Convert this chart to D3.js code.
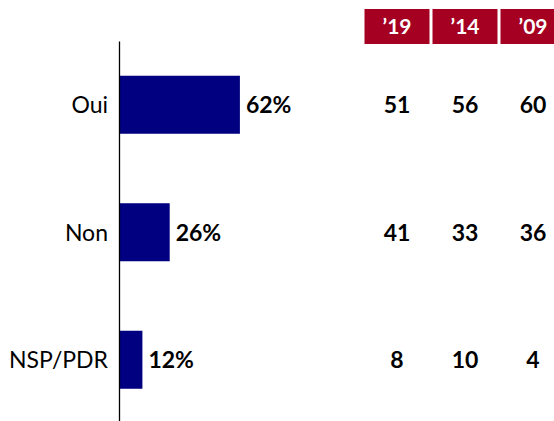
<!DOCTYPE html>
<html>
<head>
<meta charset="utf-8">
<style>
  body { margin: 0; background: #fff; font-family: Lato, "Noto Sans", sans-serif; }
  .axis path { stroke: #000; stroke-width: 1.3px; }
  .axis text { font-size: 23px; fill: #000; font-family: Lato, sans-serif; }
</style>
</head>
<body>
<script src="https://d3js.org/d3.v7.min.js"></script>
<script>
// data
var categories = ["Oui", "Non", "NSP/PDR"];
var values = [62, 26, 12];
var years = ["\u201919", "\u201914", "\u201909"];
var past19 = [51, 41, 8];
var past14 = [56, 33, 10];
var past09 = [60, 36, 4];

var width = 554, height = 421;

var svg = d3.select("body").append("svg")
    .attr("width", width)
    .attr("height", height);

var y = d3.scaleBand()
    .domain(categories)
    .range([41, 423.5])
    .paddingInner(0.545)
    .paddingOuter(0.2725);

var x = d3.scaleLinear()
    .domain([0, 100])
    .range([119, 314]);

// bars
svg.selectAll("rect.bar")
    .data(values)
    .enter().append("rect")
    .attr("class", "bar")
    .attr("x", x(0))
    .attr("y", function(d, i) { return y(categories[i]); })
    .attr("width", function(d) { return x(d) - x(0); })
    .attr("height", y.bandwidth())
    .attr("fill", "#000080");

// value labels
svg.selectAll("text.val")
    .data(values)
    .enter().append("text")
    .attr("class", "val")
    .attr("x", function(d) { return x(d) + 6; })
    .attr("y", function(d, i) { return y(categories[i]) + y.bandwidth() / 2; })
    .attr("dy", "0.36em")
    .attr("font-size", 23)
    .attr("font-weight", "bold")
    .attr("fill", "#000")
    .text(function(d) { return d + "%"; });

// axis
svg.append("g")
    .attr("class", "axis")
    .attr("transform", "translate(" + x(0) + ",0)")
    .call(d3.axisLeft(y).tickSize(0).tickSizeOuter(0).tickPadding(11))
    .selectAll("text").attr("dy", "0.36em");

// past years table
var col = d3.scalePoint()
    .domain(years)
    .range([397, 533]);

var past = [past19, past14, past09];

svg.selectAll("rect.head")
    .data(years)
    .enter().append("rect")
    .attr("class", "head")
    .attr("x", function(d) { return col(d) - 32.5; })
    .attr("y", 9)
    .attr("width", 65)
    .attr("height", 35)
    .attr("fill", "#A50021");

svg.selectAll("text.head")
    .data(years)
    .enter().append("text")
    .attr("class", "head")
    .attr("x", function(d) { return col(d); })
    .attr("y", 26.5)
    .attr("dy", "0.36em")
    .attr("text-anchor", "middle")
    .attr("font-size", 21)
    .attr("font-weight", "bold")
    .attr("fill", "#fff")
    .text(function(d) { return d; });

years.forEach(function(yr, j) {
    svg.selectAll("text.c" + j)
        .data(past[j])
        .enter().append("text")
        .attr("class", "c" + j)
        .attr("x", col(yr))
        .attr("y", function(d, i) { return y(categories[i]) + y.bandwidth() / 2; })
        .attr("dy", "0.36em")
        .attr("text-anchor", "middle")
        .attr("font-size", 23)
        .attr("font-weight", "bold")
        .attr("fill", "#000")
        .text(function(d) { return d; });
});
</script>
</body>
</html>
